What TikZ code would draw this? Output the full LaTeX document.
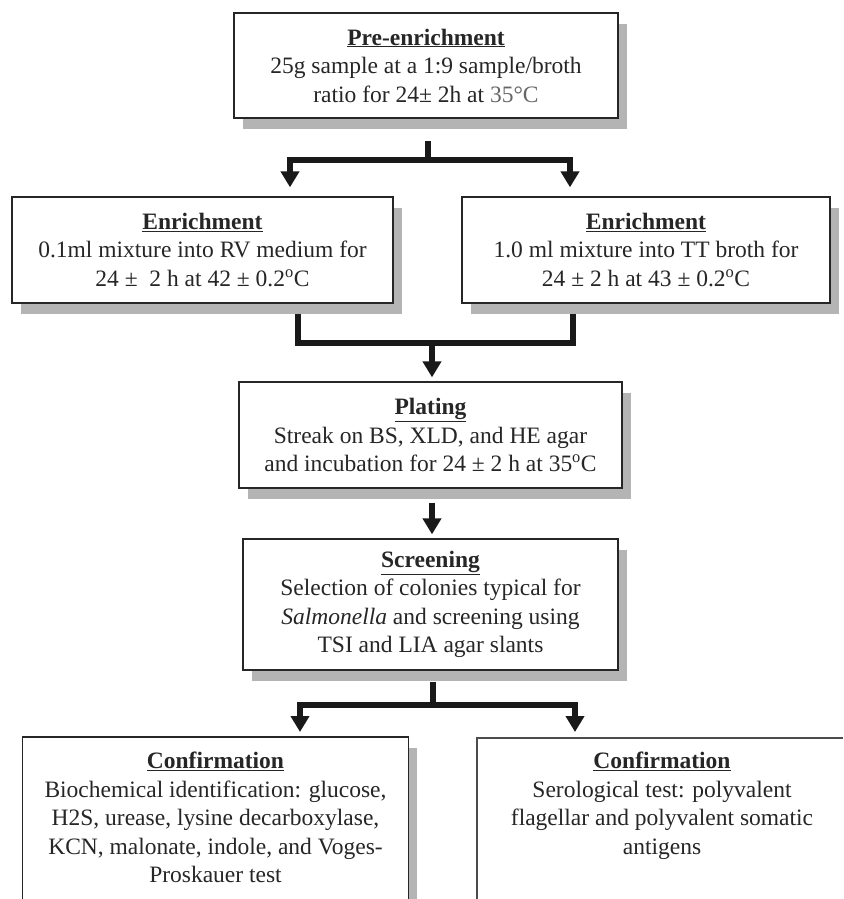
\documentclass[tikz,border=0pt]{standalone}
\usepackage{fontspec}
\setmainfont{Liberation Serif}
\usetikzlibrary{arrows.meta,shadows}
\definecolor{txtc}{HTML}{262626}
\definecolor{shadc}{HTML}{B4B4B4}
\begin{document}
\begin{tikzpicture}[x=1pt,y=-1pt,
  box/.style={draw=black!85, line width=1.3pt, fill=white, inner sep=0pt,
    drop shadow={shadow xshift=9pt, shadow yshift=-11pt, fill=shadc, opacity=1}},
  txt/.style={text=txtc, align=center, font=\fontsize{23.5}{28.5}\selectfont},
  line/.style={line width=6.5pt, draw=black!90},
  arr/.style={line width=6.5pt, draw=black!90, -{Triangle[width=18pt,length=16pt]}}]
\useasboundingbox (0,0) rectangle (843,899);
\fill[white] (0,0) rectangle (843,899);

% boxes
\node[box, txt, minimum width=384pt, minimum height=105pt] (pre) at (426,65.5)
  {\underline{\textbf{Pre-enrichment}}\\25g sample at a 1:9 sample/broth\\ratio for 24± 2h at {\color{black!60}35°C}};
\node[box, txt, minimum width=381pt, minimum height=106pt] (enrL) at (202.5,250)
  {\underline{\textbf{Enrichment}}\\0.1ml mixture into RV medium for\\24 ±~ 2 h at 42 ± 0.2\textsuperscript{o}C};
\node[box, txt, minimum width=368pt, minimum height=106pt] (enrR) at (646,250)
  {\underline{\textbf{Enrichment}}\\1.0 ml mixture into TT broth for\\24 ± 2 h at 43 ± 0.2\textsuperscript{o}C};
\node[box, txt, minimum width=383pt, minimum height=106pt] (plat) at (430.5,435)
  {\underline{\textbf{Plating}}\\Streak on BS, XLD, and HE agar\\and incubation for 24 ± 2 h at 35\textsuperscript{o}C};
\node[box, txt, minimum width=375pt, minimum height=131pt] (scr) at (430.5,604.5)
  {\underline{\textbf{Screening}}\\Selection of colonies typical for\\\textit{Salmonella} and screening using\\TSI and LIA agar slants};

% bottom boxes, cut by the picture's lower (and right) edge
\node[inner sep=0pt, minimum width=385pt, minimum height=162pt, anchor=north] (cL) at (215.5,737) {};
\fill[shadc] ([xshift=9pt,yshift=-11pt]cL.north east) rectangle ([xshift=1pt]cL.south east);
\draw[draw=black!85, line width=1.3pt] (cL.south west) -- (cL.north west) -- (cL.north east) -- (cL.south east);
\node[txt, anchor=north, inner sep=0pt] (cLt) at (215.5,752)
  {\underline{\textbf{Confirmation}}\\Biochemical identification: glucose,\\H2S, urease, lysine decarboxylase,\\KCN, malonate, indole, and Voges-\\Proskauer test};
\node[inner sep=0pt, minimum width=366pt, minimum height=161pt, anchor=north west] (cR) at (477,738) {};
\draw[draw=black!70, line width=1.3pt] (cR.south west) -- (cR.north west) -- (cR.north east);
\node[txt, anchor=north, inner sep=0pt] (cRt) at (662,752)
  {\underline{\textbf{Confirmation}}\\Serological test: polyvalent\\flagellar and polyvalent somatic\\antigens};

% connectors
\coordinate (j1) at (428,160);
\draw[line] ([xshift=2pt,yshift=-22pt]pre.south) -- (j1);
\draw[arr] (j1) -| ([xshift=87.5pt,yshift=9pt]enrL.north);
\draw[arr] (j1) -| ([xshift=-76pt,yshift=9pt]enrR.north);

\coordinate (j2) at (432,343);
\draw[line] ([xshift=95.5pt,yshift=-10pt]enrL.south) |- (j2) -| ([xshift=-73pt,yshift=-10pt]enrR.south);
\draw[arr] (j2) -- ([xshift=1.5pt,yshift=4pt]plat.north);

\draw[arr] ([xshift=1.5pt,yshift=-14pt]plat.south) -- ([xshift=1.5pt,yshift=4pt]scr.north);

\coordinate (j3) at (433,705);
\draw[line] ([xshift=2.5pt,yshift=-11pt]scr.south) -- (j3);
\draw[arr] (j3) -| ([xshift=84.5pt,yshift=5pt]cL.north);
\draw[arr] (j3) -| ([xshift=98pt,yshift=6pt]cR.north west);
\end{tikzpicture}
\end{document}
